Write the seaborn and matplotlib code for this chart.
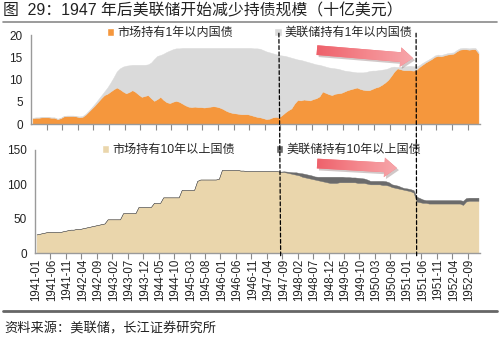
import numpy as np
import pandas as pd
import matplotlib
matplotlib.use("Agg")
import matplotlib.pyplot as plt
import seaborn as sns
from matplotlib.patches import Patch, FancyArrowPatch, ConnectionPatch
from matplotlib.lines import Line2D
from matplotlib.colors import LinearSegmentedColormap
import matplotlib.patheffects as pe

# ---- data (billions of USD, monthly 1941-01 .. 1952-12) ----
months = pd.date_range("1941-01", "1952-12", freq="MS").strftime("%Y-%m").tolist()

# market holdings, maturity within 1 year
market_short = [
    1.3, 1.4, 1.4, 1.5, 1.5, 1.5, 1.4, 1.4, 1.1, 1.3, 1.7, 1.8,
    1.8, 1.8, 1.7, 1.5, 1.6, 2.1, 2.8, 3.5, 4.2, 5.0, 5.8, 6.5,
    6.8, 7.3, 7.8, 8.2, 7.8, 7.3, 6.9, 7.2, 7.6, 7.2, 6.6, 6.1,
    6.3, 6.5, 5.8, 5.2, 5.6, 6.1, 5.4, 4.9, 4.7, 5.0, 5.2, 5.0,
    4.6, 4.2, 3.9, 3.8, 3.9, 3.8, 3.8, 3.7, 3.8, 3.9, 4.0, 3.9,
    3.7, 3.4, 3.0, 2.7, 2.5, 2.4, 2.3, 2.2, 2.2, 2.2, 2.0, 1.8,
    1.6, 1.5, 1.3, 1.1, 1.2, 1.5, 1.6, 1.5, 2.0, 2.6, 3.1, 3.5,
    4.6, 5.4, 5.3, 5.5, 5.4, 5.3, 5.6, 5.8, 6.2, 7.3, 7.0, 6.7,
    6.5, 6.8, 6.9, 7.0, 7.3, 7.6, 7.8, 8.0, 8.2, 7.9, 7.7, 7.6,
    7.6, 7.9, 8.2, 8.4, 8.8, 9.3, 9.9, 10.8, 11.8, 12.5, 12.3, 12.1,
    12.1, 12.1, 12.0, 12.1, 12.8, 13.3, 13.8, 14.2, 14.6, 15.1, 15.3, 15.2,
    15.4, 15.6, 15.7, 15.8, 16.3, 16.7, 16.8, 16.8, 16.7, 16.8, 16.8, 15.9,
]

# Fed holdings, maturity within 1 year
fed_short = [
    0.1, 0.1, 0.1, 0.1, 0.1, 0.1, 0.1, 0.1, 0.1, 0.1, 0.1, 0.1,
    0.1, 0.1, 0.1, 0.2, 0.2, 0.2, 0.2, 0.3, 0.4, 0.5, 0.6, 0.8,
    1.4, 2.0, 2.7, 3.6, 4.7, 5.6, 6.2, 6.0, 5.7, 6.1, 6.7, 7.2,
    7.0, 6.9, 8.0, 9.4, 9.7, 9.4, 10.4, 11.3, 11.8, 11.8, 11.8, 12.0,
    12.5, 12.9, 13.2, 13.3, 13.2, 13.3, 13.3, 13.4, 13.3, 13.2, 13.1, 13.2,
    13.4, 13.7, 14.1, 14.4, 14.6, 14.7, 14.8, 14.9, 14.9, 14.9, 15.1, 15.2,
    15.4, 15.4, 15.3, 15.2, 14.9, 14.4, 14.1, 14.0, 13.4, 12.7, 12.0, 11.4,
    10.1, 9.1, 9.1, 8.7, 8.6, 8.5, 8.0, 7.6, 7.1, 5.8, 5.9, 6.0,
    6.1, 5.7, 5.5, 5.2, 4.7, 4.3, 4.0, 3.7, 3.4, 3.7, 3.9, 4.1,
    4.3, 4.1, 3.8, 3.7, 3.4, 3.0, 2.6, 2.0, 1.1, 0.3, 0.6, 0.8,
    0.9, 1.0, 1.0, 0.8, 0.4, 0.4, 0.3, 0.3, 0.3, 0.3, 0.3, 0.3,
    0.3, 0.3, 0.3, 0.3, 0.3, 0.3, 0.3, 0.3, 0.3, 0.3, 0.3, 0.3,
]

# market holdings, maturity over 10 years
market_long = [
    27, 28, 29, 30, 31, 31, 31, 31, 31, 32, 33, 34,
    34, 35, 35, 36, 37, 38, 39, 40, 41, 42, 43, 49,
    49, 49, 49, 49, 58, 58, 58, 58, 58, 67, 67, 67,
    67, 67, 73, 73, 73, 81, 81, 81, 81, 81, 81, 92,
    92, 92, 92, 92, 105, 107, 107, 107, 107, 107, 107, 108,
    121, 121, 121, 121, 121, 121, 120, 120, 119, 119, 119, 119,
    119, 119, 119, 119, 119, 119, 119, 118, 118, 117, 116, 115,
    114, 113, 111, 110, 109, 108, 107, 106, 105, 104, 103, 102,
    102, 102, 103, 103, 103, 103, 103, 103, 102, 102, 102, 101,
    100, 100, 100, 100, 99, 99, 98, 96, 95, 94, 93, 92,
    91, 90, 88, 75, 74, 73, 73, 72, 72, 72, 72, 72,
    72, 72, 72, 72, 72, 72, 70, 75, 76, 76, 76, 76,
]

# Fed holdings, maturity over 10 years
fed_long = [
    0, 0, 0, 0, 0, 0, 0, 0, 0, 0, 0, 0,
    0, 0, 0, 0, 0, 0, 0, 0, 0, 0, 0, 0,
    0, 0, 0, 0, 0, 0, 0, 0, 0, 0, 0, 0,
    0, 0, 0, 0, 0, 0, 0, 0, 0, 0, 0, 0,
    0, 0, 0, 0, 0, 0, 0, 0, 0, 0, 0, 0,
    0, 0, 0, 0, 0, 0, 0, 0, 0, 0, 0, 0,
    0, 0, 0, 0, 0, 0, 0, 0.5, 1, 1.5, 2, 2.5,
    3.5, 3.5, 5, 5, 5, 5, 4.5, 5, 6, 7, 8, 9,
    9, 9, 8, 8, 7.5, 7.5, 7, 7, 7.5, 7, 6.5, 6,
    5, 5, 5, 5, 6, 5.5, 5, 4, 4, 4, 3, 2.5,
    3, 3, 3.5, 7, 6, 5, 4, 5, 5, 5, 5, 5,
    5, 5, 5, 5, 5, 5, 6, 5, 4.5, 4.5, 4.5, 4.5,
]

tick_labels = [
    "1941-01", "1941-06", "1941-11", "1942-04", "1942-09", "1943-02",
    "1943-07", "1943-12", "1944-05", "1944-10", "1945-03", "1945-08",
    "1946-01", "1946-06", "1946-11", "1947-04", "1947-09", "1948-02",
    "1948-07", "1948-12", "1949-05", "1949-10", "1950-03", "1950-08",
    "1951-01", "1951-06", "1951-11", "1952-04", "1952-09",
]
event_months = ["1947-08", "1951-04"]

short_labels = ["市场持有1年以内国债", "美联储持有1年以内国债"]
long_labels = ["市场持有10年以上国债", "美联储持有10年以上国债"]

title = "图  29：1947 年后美联储开始减少持债规模（十亿美元）"
source = "资料来源：美联储，长江证券研究所"

ORANGE = "#F5973D"
LGRAY = "#DADADA"
BEIGE = "#EAD6AC"
DGRAY = "#6B6B6B"
TEXT = "#222222"

# ---- style ----
sns.set_theme(style="white")
plt.rcParams["font.family"] = ["Liberation Sans", "Noto Sans CJK SC"]

W, H = 500, 339
fig = plt.figure(figsize=(W / 100, H / 100), dpi=100)
ax1 = fig.add_axes([31 / W, 1 - 124 / H, 449 / W, 89 / H])
ax2 = fig.add_axes([35 / W, 1 - 253 / H, 445 / W, 103 / H])

x = np.arange(len(months))
ax1.stackplot(x, market_short, fed_short, colors=[ORANGE, LGRAY],
              edgecolor="face", linewidth=0.3)
ax2.stackplot(x, market_long, fed_long, colors=[BEIGE, DGRAY],
              edgecolor="face", linewidth=0.3)

tick_pos = [months.index(t) for t in tick_labels]
minor_pos = np.arange(4.5, len(months), 5)

for ax, ylim, yt in ((ax1, 20, [0, 5, 10, 15, 20]), (ax2, 150, [0, 50, 100, 150])):
    ax.set_xlim(-0.5, len(months) - 0.5)
    ax.set_ylim(0, ylim)
    ax.set_yticks(yt)
    ax.set_xticks(tick_pos)
    ax.set_xticks(minor_pos, minor=True)
    ax.tick_params(axis="x", which="major", length=0)
    ax.tick_params(axis="x", which="minor", length=4, width=0.8,
                   color="#8a8a8a", direction="out", bottom=True)
    ax.tick_params(axis="y", length=0, pad=6, labelsize=8.5, labelcolor=TEXT)
    for s in ("top", "right"):
        ax.spines[s].set_visible(False)
    for s in ("left", "bottom"):
        ax.spines[s].set_color("#9a9a9a")
        ax.spines[s].set_linewidth(1.0)

ax1.set_xticklabels([])
ax2.set_xticklabels(tick_labels, rotation=90, fontsize=8.3, color=TEXT)
ax2.tick_params(axis="x", which="major", pad=4)

# legends
leg_kw = dict(loc="center", ncol=2, frameon=False, fontsize=8.7,
              handlelength=0.6, handleheight=0.6, handletextpad=0.25,
              columnspacing=3.4, borderaxespad=0)
ax1.legend([Patch(facecolor=ORANGE), Patch(facecolor=LGRAY)], short_labels,
           bbox_to_anchor=(0.51, 1.02), **leg_kw)
ax2.legend([Patch(facecolor=BEIGE), Patch(facecolor=DGRAY)], long_labels,
           bbox_to_anchor=(0.509, 1.0), **leg_kw)

# dashed markers spanning both panels
for m in event_months:
    i = months.index(m)
    con = ConnectionPatch(xyA=(i, 20.4), coordsA=ax1.transData,
                          xyB=(i, -4.4), coordsB=ax2.transData,
                          color="black", lw=0.9, linestyle=(0, (3, 2)))
    fig.add_artist(con)

# gradient arrows
cmap = LinearSegmentedColormap.from_list("arr", ["#EE5F69", "#F4868C", "#F7A9AD"])


def gradient_arrow(ax, start, end):
    arrow = FancyArrowPatch(start, end,
                            arrowstyle="simple,tail_width=7,head_width=14,head_length=9",
                            mutation_scale=1, shrinkA=0, shrinkB=0,
                            facecolor="#F27A81", edgecolor="none", zorder=5)
    arrow.set_path_effects([pe.SimplePatchShadow(offset=(1.5, -1.5), alpha=0.25),
                            pe.Normal()])
    ax.add_patch(arrow)
    xl, yl = ax.get_xlim(), ax.get_ylim()
    grad = np.linspace(0, 1, 256).reshape(1, -1)
    im = ax.imshow(grad, cmap=cmap, aspect="auto", zorder=6, origin="lower",
                   extent=[start[0] - 1, end[0] + 1, yl[0], yl[1]])
    im.set_clip_path(arrow)
    ax.set_xlim(xl)
    ax.set_ylim(yl)


gradient_arrow(ax1, (91.2, 16.6), (122.0, 14.8))
gradient_arrow(ax2, (90.8, 130.3), (116.6, 123.7))

# title, rules and source
fig.text(3 / W, 1 - 11 / H, title, fontsize=11.4, va="center", ha="left", color=TEXT)
fig.add_artist(Line2D([3 / W, 497 / W], [1 - 22 / H] * 2, color="#8a8a8a", lw=1.2))
fig.add_artist(Line2D([3 / W, 497 / W], [1 - 311 / H] * 2, color="#666666", lw=2.0))
fig.text(4 / W, 1 - 329 / H, source, fontsize=9.5, va="center", ha="left", color=TEXT)

fig.savefig("out.png", dpi=100)
